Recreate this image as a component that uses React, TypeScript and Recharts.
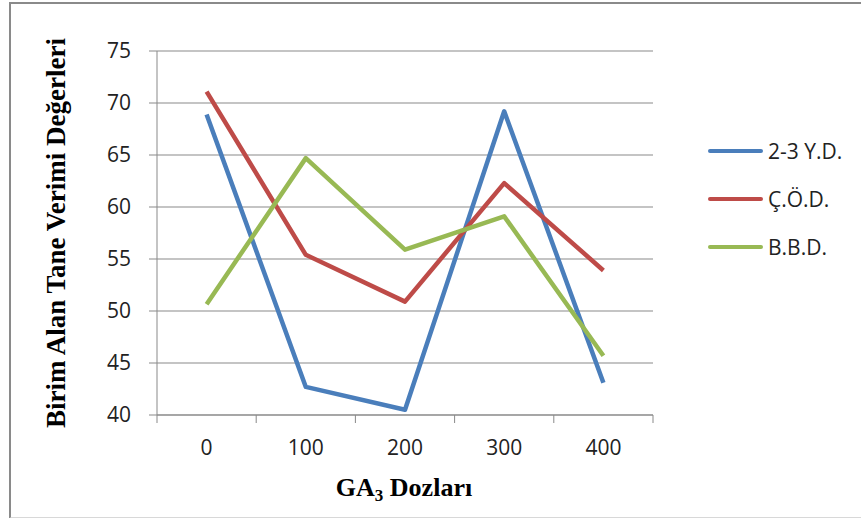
import React from 'react';
import { LineChart, Line, XAxis, YAxis, CartesianGrid, Legend } from 'recharts';

const categories = ['0', '100', '200', '300', '400'];
const yTicks = [40, 45, 50, 55, 60, 65, 70, 75];
const seriesNames = ['2-3 Y.D.', 'Ç.Ö.D.', 'B.B.D.'];
const yd = [68.9, 42.7, 40.5, 69.2, 43.1];
const cod = [71.1, 55.4, 50.9, 62.3, 53.9];
const bbd = [50.65, 64.7, 55.9, 59.1, 45.7];
const colors = ['#4A7EBB', '#BE4B48', '#98B954'];

const data = categories.map((c, i) => ({ i, label: c, yd: yd[i], cod: cod[i], bbd: bbd[i] }));
const xTicks = [-0.5, 0, 0.5, 1, 1.5, 2, 2.5, 3, 3.5, 4, 4.5];

const GRID = '#898989';
const TICK_FONT = '"Open Sans", sans-serif';
const TITLE_FONT = '"Liberation Serif", "Times New Roman", serif';

const XTick = (props: any) => {
  const { x, y, payload } = props;
  const v = payload.value;
  if (Number.isInteger(v)) {
    return (
      <text x={x} y={y + 32} textAnchor="middle" fontFamily={TICK_FONT} fontSize={21} fill="#222">
        {categories[v]}
      </text>
    );
  }
  return <line x1={x} x2={x} y1={y - 8} y2={y} stroke={GRID} strokeWidth={1} />;
};

const YTick = (props: any) => {
  const { x, y, payload } = props;
  return (
    <text x={x} y={y + 7} textAnchor="end" fontFamily={TICK_FONT} fontSize={21} fill="#222">
      {payload.value}
    </text>
  );
};

const YTitle = (props: any) => {
  const vb = props.viewBox;
  return (
    <text
      transform={`translate(65, ${vb.y + vb.height / 2}) rotate(-90)`}
      textAnchor="middle"
      fontFamily={TITLE_FONT}
      fontWeight="bold"
      fontSize={27}
      fill="#000"
    >
      Birim Alan Tane Verimi Değerleri
    </text>
  );
};

const XTitle = (props: any) => {
  const vb = props.viewBox;
  return (
    <text
      x={vb.x + vb.width / 2 - 1}
      y={496}
      textAnchor="middle"
      fontFamily={TITLE_FONT}
      fontWeight="bold"
      fontSize={26}
      fill="#000"
    >
      GA<tspan fontSize={17} dy={5}>3</tspan>
      <tspan dy={-5}> Dozları</tspan>
    </text>
  );
};

const LegendContent = () => (
  <div style={{ display: 'flex', flexDirection: 'column' }}>
    {seriesNames.map((n, k) => (
      <div key={n} style={{ height: 48, display: 'flex', alignItems: 'center' }}>
        <div style={{ width: 55, height: 4.5, background: colors[k], borderRadius: 2 }} />
        <span style={{ marginLeft: 5, fontFamily: TICK_FONT, fontSize: 21, color: '#222', whiteSpace: 'nowrap' }}>{n}</span>
      </div>
    ))}
  </div>
);

export default function App() {
  return (
    <div style={{ position: 'absolute', left: 0, top: 0, width: 861, height: 518, background: '#fff', overflow: 'hidden' }}>
      <div
        style={{
          position: 'absolute',
          left: 9,
          top: 2,
          width: 900,
          height: 513,
          borderTop: '2px solid #8a8a8a',
          borderLeft: '2px solid #8a8a8a',
          borderBottom: '2px solid #d8d8d8',
        }}
      />
      <div style={{ position: 'absolute', left: 0, top: 0 }}>
        <LineChart width={861} height={518} data={data} margin={{ top: 51, right: 208, left: 0, bottom: 0 }}>
          <CartesianGrid vertical={false} stroke={GRID} strokeDasharray="" />
          <XAxis
            dataKey="i"
            type="number"
            domain={[-0.5, 4.5]}
            ticks={xTicks}
            interval={0}
            height={103}
            tickLine={false}
            tickSize={8}
            tickMargin={0}
            axisLine={{ stroke: GRID }}
            tick={<XTick />}
            label={<XTitle />}
          />
          <YAxis
            type="number"
            domain={[40, 75]}
            ticks={yTicks}
            interval={0}
            width={157}
            tickSize={8}
            tickMargin={18}
            tickLine={{ stroke: GRID }}
            axisLine={{ stroke: GRID }}
            tick={<YTick />}
            label={<YTitle />}
          />
          <Legend
            layout="vertical"
            align="center"
            verticalAlign="middle"
            content={<LegendContent />}
            wrapperStyle={{ position: 'absolute', left: 708, top: 127, width: 150 }}
          />
          <Line dataKey="yd" name={seriesNames[0]} stroke={colors[0]} strokeWidth={4.5} dot={false} isAnimationActive={false} strokeLinejoin="round" />
          <Line dataKey="cod" name={seriesNames[1]} stroke={colors[1]} strokeWidth={4.5} dot={false} isAnimationActive={false} strokeLinejoin="round" />
          <Line dataKey="bbd" name={seriesNames[2]} stroke={colors[2]} strokeWidth={4.5} dot={false} isAnimationActive={false} strokeLinejoin="round" />
        </LineChart>
      </div>
    </div>
  );
}
